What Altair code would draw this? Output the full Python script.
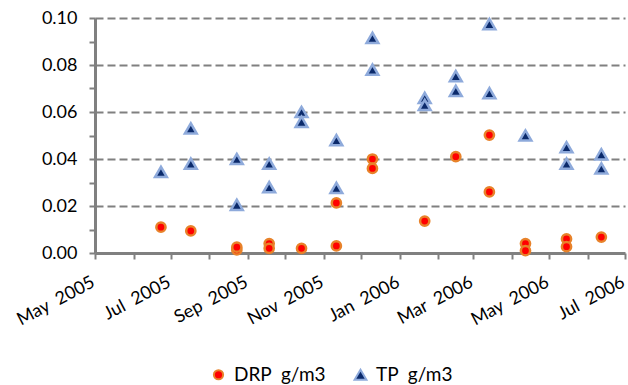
import altair as alt
import pandas as pd

# ---- data ----
series_names = ["DRP  g/m3", "TP  g/m3"]

drp_dates = ["2005-06-23", "2005-07-17", "2005-08-23", "2005-08-23", "2005-09-18",
             "2005-09-18", "2005-10-14", "2005-11-11", "2005-11-11", "2005-12-10",
             "2005-12-10", "2006-01-21", "2006-02-15", "2006-03-14", "2006-03-14",
             "2006-04-12", "2006-04-12", "2006-05-15", "2006-05-15", "2006-06-12"]
drp_vals = [0.011, 0.0094, 0.0013, 0.0025, 0.004,
            0.002, 0.002, 0.0213, 0.003, 0.040,
            0.036, 0.0136, 0.041, 0.0502, 0.026,
            0.004, 0.001, 0.006, 0.0027, 0.0068]

tp_dates = ["2005-06-23", "2005-07-17", "2005-07-17", "2005-08-23", "2005-08-23",
            "2005-09-18", "2005-09-18", "2005-10-14", "2005-10-14", "2005-11-11",
            "2005-11-11", "2005-12-10", "2005-12-10", "2006-01-21", "2006-01-21",
            "2006-02-15", "2006-02-15", "2006-03-14", "2006-03-14", "2006-04-12",
            "2006-05-15", "2006-05-15", "2006-06-12", "2006-06-12"]
tp_vals = [0.0345, 0.053, 0.038, 0.040, 0.0205,
           0.038, 0.028, 0.060, 0.0558, 0.048,
           0.0277, 0.0915, 0.078, 0.066, 0.063,
           0.0753, 0.069, 0.0974, 0.068, 0.050,
           0.045, 0.038, 0.042, 0.036]

y_tick_values = [0.0, 0.01, 0.02, 0.03, 0.04, 0.05, 0.06, 0.07, 0.08, 0.09, 0.10]

df = pd.concat([
    pd.DataFrame({"date": drp_dates, "value": drp_vals, "series": series_names[0]}),
    pd.DataFrame({"date": tp_dates, "value": tp_vals, "series": series_names[1]}),
])

GRAY = "#808080"
FONT = "Lato"
NBSP2 = "\u00a0\u00a0"

x_axis = alt.Axis(
    title=None,
    tickCount=alt.TimeIntervalStep(interval="month", step=1),
    labelExpr="utcmonth(datum.value) % 2 == 0 ? utcFormat(datum.value, '%b" + NBSP2 + "%Y') : ''",
    labelAngle=-28, labelAlign="right", labelBaseline="top",
    labelPadding=14, labelOffset=-6, labelOverlap=False, labelFlush=False, labelBound=False,
    labelFont=FONT, labelFontSize=18, labelColor="#000000",
    tickSize=6, tickColor=GRAY, tickWidth=2,
    domainColor=GRAY, domainWidth=3, grid=False,
)

y_axis = alt.Axis(
    title=None,
    values=y_tick_values,
    labelExpr="round(datum.value*100) % 2 == 0 ? format(datum.value, '.2f') : ''",
    labelFont=FONT, labelFontSize=18, labelColor="#000000", labelPadding=12,
    tickSize=6, tickColor=GRAY, tickWidth=2,
    domainColor=GRAY, domainWidth=3,
    grid=True, gridColor=GRAY, gridWidth=2, gridDash=[8, 4],
    gridOpacity={"condition": {"test": "round(datum.value*100) % 2 == 0 && datum.value > 0", "value": 1}, "value": 0},
)

legend = alt.Legend(
    title=None, orient="none", legendX=114, legendY=347, direction="horizontal",
    labelExpr="replace(datum.label, '  ', '" + NBSP2 + "')",
    labelFont=FONT, labelFontSize=19, labelColor="#000000",
    symbolStrokeWidth=2, columnPadding=24, labelOffset=6,
)

chart = alt.Chart(df).mark_point(filled=True, opacity=1, strokeWidth=2.5).encode(
    x=alt.X("date:T",
            scale=alt.Scale(type="utc",
                            domain=[alt.DateTime(year=2005, month=5, date=1, utc=True),
                                    alt.DateTime(year=2006, month=7, date=1, utc=True)]),
            axis=x_axis),
    y=alt.Y("value:Q", scale=alt.Scale(domain=[0, 0.1], nice=False), axis=y_axis),
    fill=alt.Fill("series:N", scale=alt.Scale(domain=series_names, range=["#ff0000", "#0b2a6b"]), legend=legend),
    stroke=alt.Stroke("series:N", scale=alt.Scale(domain=series_names, range=["#e8822a", "#8eaadb"]), legend=legend),
    shape=alt.Shape("series:N", scale=alt.Scale(domain=series_names, range=["circle", "triangle-up"]), legend=legend),
    size=alt.Size("series:N", scale=alt.Scale(domain=series_names, range=[85, 140]), legend=legend),
).properties(
    width=530, height=235,
    autosize=alt.AutoSizeParams(type="none"),
    padding={"left": 95, "top": 18, "right": 3, "bottom": 132},
).configure_view(stroke=None)

chart.save("out.html", embed_options={"renderer": "svg", "actions": False})
